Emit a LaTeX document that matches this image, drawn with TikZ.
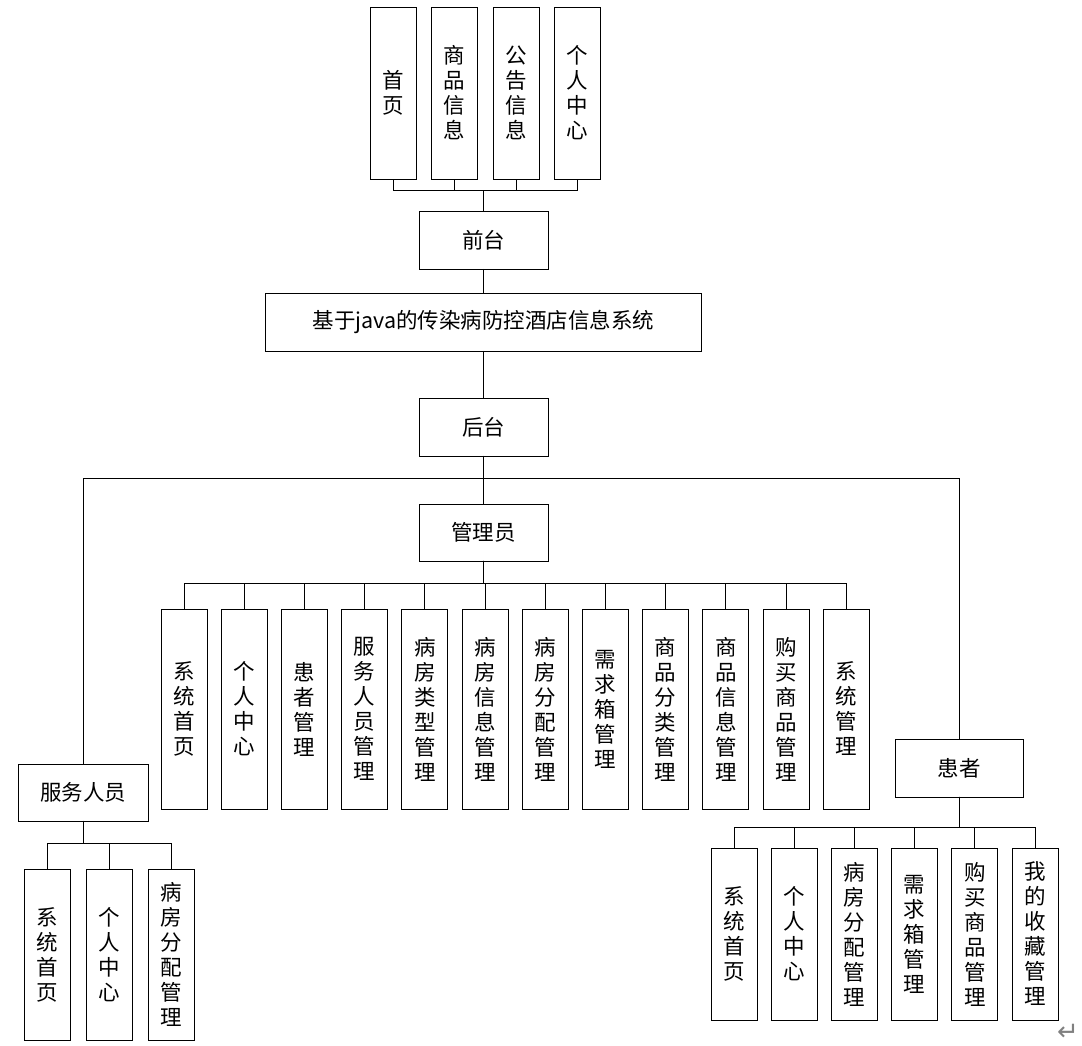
\documentclass[tikz,border=0pt]{standalone}
\usepackage{fontspec}
\newfontfamily\cjk{Noto Sans CJK SC}
\newfontfamily\symfont{DejaVu Sans}
\usetikzlibrary{positioning}

\begin{document}
\begin{tikzpicture}[
        x=1pt, y=1pt, line width=0.9pt,
        every node/.style={draw, align=center, inner sep=0pt, outer sep=0pt, font=\cjk\fontsize{21.5}{25}\selectfont},
        hbox/.style={minimum width=#1, minimum height=58pt},
        vbox/.style={minimum width=46pt, minimum height=#1}
    ]
        \useasboundingbox (0,0) rectangle (1082,1046);

        % 前台
        \node [vbox=172pt] (q1) at (393,953) {首\\页};
        \node [vbox=172pt, right=15.5pt of q1] (q2) {商\\品\\信\\息};
        \node [vbox=172pt, right=15.5pt of q2] (q3) {公\\告\\信\\息};
        \node [vbox=172pt, right=15.5pt of q3] (q4) {个\\人\\中\\心};
        \node [hbox=129pt] (qt) at (483.5,806) {前台};
        \node [hbox=436pt] (xt) at (483.5,724) {基于java的传染病防控酒店信息系统};
        \node [hbox=129pt] (ht) at (483.5,619) {后台};

        % 管理员
        \node [hbox=129pt, minimum height=57pt] (gly) at (483.5,513.5) {管理员};
        \node [vbox=200pt] (a1) at (184,337) {系\\统\\首\\页};
        \node [vbox=200pt, right=14.2pt of a1] (a2) {个\\人\\中\\心};
        \node [vbox=200pt, right=14.2pt of a2] (a3) {患\\者\\管\\理};
        \node [vbox=200pt, right=14.2pt of a3] (a4) {服\\务\\人\\员\\管\\理};
        \node [vbox=200pt, right=14.2pt of a4] (a5) {病\\房\\类\\型\\管\\理};
        \node [vbox=200pt, right=14.2pt of a5] (a6) {病\\房\\信\\息\\管\\理};
        \node [vbox=200pt, right=14.2pt of a6] (a7) {病\\房\\分\\配\\管\\理};
        \node [vbox=200pt, right=14.2pt of a7] (a8) {需\\求\\箱\\管\\理};
        \node [vbox=200pt, right=14.2pt of a8] (a9) {商\\品\\分\\类\\管\\理};
        \node [vbox=200pt, right=14.2pt of a9] (a10) {商\\品\\信\\息\\管\\理};
        \node [vbox=200pt, right=14.2pt of a10] (a11) {购\\买\\商\\品\\管\\理};
        \node [vbox=200pt, right=14.2pt of a11] (a12) {系\\统\\管\\理};

        % 服务人员
        \node [hbox=130pt, minimum height=57pt] (fw) at (83,253.5) {服务人员};
        \node [vbox=171pt] (f1) at (47,91.5) {系\\统\\首\\页};
        \node [vbox=171pt, right=16pt of f1] (f2) {个\\人\\中\\心};
        \node [vbox=171pt, right=16pt of f2] (f3) {病\\房\\分\\配\\管\\理};

        % 患者
        \node [hbox=128pt] (hz) at (959,278) {患者};
        \node [vbox=172pt] (h1) at (734,112) {系\\统\\首\\页};
        \node [vbox=172pt, right=14.2pt of h1] (h2) {个\\人\\中\\心};
        \node [vbox=172pt, right=14.2pt of h2] (h3) {病\\房\\分\\配\\管\\理};
        \node [vbox=172pt, right=14.2pt of h3] (h4) {需\\求\\箱\\管\\理};
        \node [vbox=172pt, right=14.2pt of h4] (h5) {购\\买\\商\\品\\管\\理};
        \node [vbox=172pt, right=14.2pt of h5] (h6) {我\\的\\收\\藏\\管\\理};

        \node [draw=none, text=gray, font=\symfont\fontsize{26}{26}\selectfont] (ret) at (1068,14) {↵};

        % 连线
        \draw (qt.north) -- ++(0,21) -| (q1.south);
        \draw (qt.north) -- ++(0,21) -| (q2.south);
        \draw (qt.north) -- ++(0,21) -| (q3.south);
        \draw (qt.north) -- ++(0,21) -| (q4.south);
        \draw (qt.south) -- (xt.north);
        \draw (xt.south) -- (ht.north);
        \draw (ht.south) -- (gly.north);
        \draw (ht.south) -- ++(0,-22) -| (fw.north);
        \draw (ht.south) -- ++(0,-22) -| (hz.north);

        \draw (gly.south) -- ++(0,-22) -| (a1.north);
        \draw (gly.south) -- ++(0,-22) -| (a2.north);
        \draw (gly.south) -- ++(0,-22) -| (a3.north);
        \draw (gly.south) -- ++(0,-22) -| (a4.north);
        \draw (gly.south) -- ++(0,-22) -| (a5.north);
        \draw (gly.south) -- ++(0,-22) -| (a6.north);
        \draw (gly.south) -- ++(0,-22) -| (a7.north);
        \draw (gly.south) -- ++(0,-22) -| (a8.north);
        \draw (gly.south) -- ++(0,-22) -| (a9.north);
        \draw (gly.south) -- ++(0,-22) -| (a10.north);
        \draw (gly.south) -- ++(0,-22) -| (a11.north);
        \draw (gly.south) -- ++(0,-22) -| (a12.north);

        \draw (fw.south) -- ++(0,-22) -| (f1.north);
        \draw (fw.south) -- ++(0,-22) -| (f2.north);
        \draw (fw.south) -- ++(0,-22) -| (f3.north);

        \draw (hz.south) -- ++(0,-30) -| (h1.north);
        \draw (hz.south) -- ++(0,-30) -| (h2.north);
        \draw (hz.south) -- ++(0,-30) -| (h3.north);
        \draw (hz.south) -- ++(0,-30) -| (h4.north);
        \draw (hz.south) -- ++(0,-30) -| (h5.north);
        \draw (hz.south) -- ++(0,-30) -| (h6.north);
    \end{tikzpicture}
\end{document}
